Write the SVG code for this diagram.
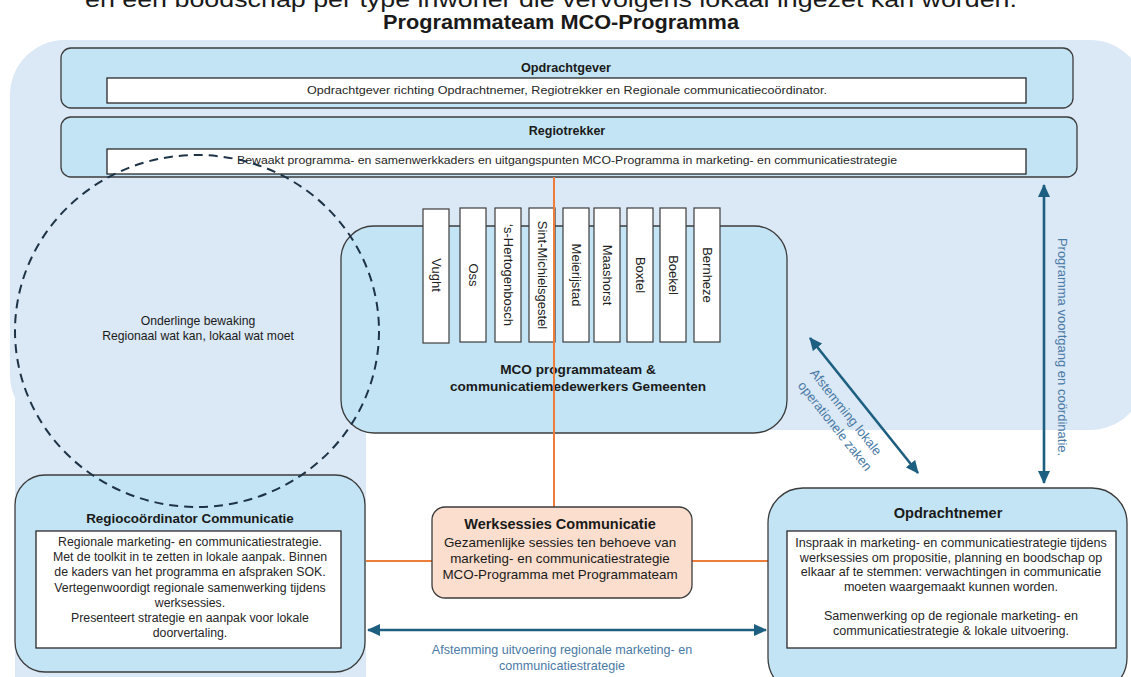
<svg xmlns="http://www.w3.org/2000/svg" width="1131" height="677" viewBox="0 0 1131 677">
<style>
text{font-family:"Liberation Sans",Arial,sans-serif;fill:#1a1a1a}
.node{fill:#c2e4f4;stroke:#3c3c3c;stroke-width:1.3}
.inner{fill:#ffffff;stroke:#2a2a2a;stroke-width:1.3}
.muni{fill:#ffffff;stroke:#3c3c3c;stroke-width:1.2}
.t{font-weight:bold;text-anchor:middle}
.b{text-anchor:middle;fill:#262626}
.m{text-anchor:middle;font-size:13px;fill:#222;dominant-baseline:central}
.lbl{text-anchor:middle;fill:#4a7aa6}
.orange{stroke:#ef7d3a;stroke-width:2;fill:none}
.blue{stroke:#1d5f80;stroke-width:2.6;fill:none;marker-start:url(#ah);marker-end:url(#ah)}
</style>
<defs>
<marker id="ah" markerUnits="userSpaceOnUse" markerWidth="14" markerHeight="12" refX="12" refY="6" orient="auto-start-reverse" viewBox="0 0 14 12">
<path d="M0,0 L13,6 L0,12 Z" fill="#1d5f80"/>
</marker>
</defs>
<g id="background">
<rect x="10" y="40" width="1135" height="390" rx="55" fill="#dbe8f5"/>
<rect x="15" y="380" width="351" height="297" fill="#dbe8f5"/>
</g>
<text x="551" y="7" font-size="22" text-anchor="middle" textLength="932" lengthAdjust="spacingAndGlyphs">en een boodschap per type inwoner die vervolgens lokaal ingezet kan worden.</text>
<text id="title" x="561" y="29" font-size="21" font-weight="bold" text-anchor="middle" textLength="356" lengthAdjust="spacingAndGlyphs">Programmateam MCO-Programma</text>
<g id="opdrachtgever">
<rect class="node" x="61" y="48" width="1012" height="60" rx="10"/>
<text class="t" x="566" y="72" font-size="12" textLength="90" lengthAdjust="spacingAndGlyphs">Opdrachtgever</text>
<rect class="inner" x="107" y="78" width="919" height="25"/>
<text class="b" x="567" y="94" font-size="11" textLength="520" lengthAdjust="spacingAndGlyphs">Opdrachtgever richting Opdrachtnemer, Regiotrekker en Regionale communicatiecoördinator.</text>
</g>
<g id="regiotrekker">
<rect class="node" x="61" y="117" width="1016" height="60" rx="10"/>
<text class="t" x="567" y="135" font-size="12.5">Regiotrekker</text>
<rect class="inner" x="107" y="149" width="919" height="25"/>
<text class="b" x="567" y="164" font-size="11" textLength="660" lengthAdjust="spacingAndGlyphs">Bewaakt programma- en samenwerkkaders en uitgangspunten MCO-Programma in marketing- en communicatiestrategie</text>
</g>
<g id="mco">
<rect class="node" x="341" y="226" width="446" height="207" rx="33"/>
<g id="gemeenten">
<rect class="muni" x="423" y="209" width="26" height="134"/>
<text class="m" transform="translate(436,275) rotate(90)">Vught</text>
<rect class="muni" x="460" y="208" width="26" height="134"/>
<text class="m" transform="translate(473,275) rotate(90)">Oss</text>
<rect class="muni" x="495" y="208" width="26" height="134"/>
<text class="m" transform="translate(508,275) rotate(90)">‘s-Hertogenbosch</text>
<rect class="muni" x="529" y="208" width="26" height="134"/>
<text class="m" transform="translate(542,275) rotate(90)">Sint-Michielsgestel</text>
<rect class="muni" x="563" y="208" width="26" height="134"/>
<text class="m" transform="translate(576,275) rotate(90)">Meierijstad</text>
<rect class="muni" x="594" y="208" width="26" height="134"/>
<text class="m" transform="translate(607,275) rotate(90)">Maashorst</text>
<rect class="muni" x="627" y="208" width="26" height="134"/>
<text class="m" transform="translate(640,275) rotate(90)">Boxtel</text>
<rect class="muni" x="660" y="208" width="26" height="134"/>
<text class="m" transform="translate(673,275) rotate(90)">Boekel</text>
<rect class="muni" x="694" y="208" width="26" height="134"/>
<text class="m" transform="translate(707,275) rotate(90)">Bernheze</text>
</g>
<text class="t" x="578" y="374" font-size="13.6">MCO programmateam &amp;</text>
<text class="t" x="578" y="391" font-size="13.6">communicatiemedewerkers Gemeenten</text>
</g>
<g id="connectors">
<line class="orange" x1="554" y1="177" x2="554" y2="507"/>
<line class="orange" x1="366" y1="561" x2="432" y2="561"/>
<line class="orange" x1="692" y1="561" x2="768" y2="561"/>
<line class="blue" x1="368" y1="630" x2="766" y2="630"/>
<line class="blue" x1="1044" y1="185" x2="1044" y2="483"/>
<line class="blue" x1="810" y1="338" x2="918" y2="473"/>
<text class="lbl" x="562" y="654" font-size="12.6">Afstemming uitvoering regionale marketing- en</text>
<text class="lbl" x="562" y="670" font-size="12.6">communicatiestrategie</text>
<text class="lbl" font-size="13" dominant-baseline="central" transform="translate(1062,347) rotate(90)">Programma voortgang en coördinatie.</text>
<text class="lbl" font-size="13" dominant-baseline="central" transform="translate(846,412) rotate(51.5)">Afstemming lokale</text>
<text class="lbl" font-size="13" dominant-baseline="central" transform="translate(835,426) rotate(51.5)">operationele zaken</text>
</g>
<g id="regiocoordinator">
<rect class="node" x="15" y="475" width="350" height="197" rx="30"/>
<text class="t" x="190" y="523" font-size="13.4">Regiocoördinator Communicatie</text>
<rect class="inner" x="36" y="531" width="305" height="117"/>
<text class="b" x="190" y="546" font-size="12.3">Regionale marketing- en communicatiestrategie.</text>
<text class="b" x="190" y="561.2" font-size="12.3">Met de toolkit in te zetten in lokale aanpak. Binnen</text>
<text class="b" x="190" y="576.4" font-size="12.3">de kaders van het programma en afspraken SOK.</text>
<text class="b" x="190" y="591.6" font-size="12.3">Vertegenwoordigt regionale samenwerking  tijdens</text>
<text class="b" x="190" y="606.8" font-size="12.3">werksessies.</text>
<text class="b" x="190" y="622" font-size="12.3">Presenteert strategie en aanpak voor lokale</text>
<text class="b" x="190" y="637.2" font-size="12.3">doorvertaling.</text>
</g>
<g id="opdrachtnemer">
<rect class="node" x="768" y="488" width="359" height="205" rx="35"/>
<text class="t" x="948" y="518" font-size="14.6">Opdrachtnemer</text>
<rect class="inner" x="787" y="531" width="329" height="117"/>
<text class="b" x="951" y="547" font-size="12.6">Inspraak in marketing- en communicatiestrategie tijdens</text>
<text class="b" x="951" y="561.5" font-size="12.6">werksessies om propositie, planning en boodschap op</text>
<text class="b" x="951" y="576" font-size="12.6">elkaar af te stemmen: verwachtingen in communicatie</text>
<text class="b" x="951" y="590.5" font-size="12.6">moeten waargemaakt kunnen worden.</text>
<text class="b" x="951" y="620" font-size="12.6">Samenwerking op de regionale marketing- en</text>
<text class="b" x="951" y="635" font-size="12.6">communicatiestrategie &amp; lokale uitvoering.</text>
</g>
<g id="werksessies">
<rect x="432" y="507" width="260" height="91" rx="13" fill="#fbdecd" stroke="#3c3c3c" stroke-width="1.3"/>
<text class="t" x="560" y="529" font-size="14.5">Werksessies Communicatie</text>
<text x="560" y="546.5" font-size="13.4" text-anchor="middle" fill="#262626">Gezamenlijke sessies ten behoeve van</text>
<text x="560" y="562.5" font-size="13.4" text-anchor="middle" fill="#262626">marketing- en communicatiestrategie</text>
<text x="560" y="578.5" font-size="13.4" text-anchor="middle" fill="#262626">MCO-Programma met Programmateam</text>
</g>
<g id="bewaking">
<ellipse cx="197" cy="331" rx="182" ry="176" fill="none" stroke="#1e3446" stroke-width="2" stroke-dasharray="9 6"/>
<text x="198" y="325" font-size="12.2" text-anchor="middle" fill="#333">Onderlinge bewaking</text>
<text x="198" y="340" font-size="12.2" text-anchor="middle" fill="#333">Regionaal wat kan, lokaal wat moet</text>
</g>
</svg>
